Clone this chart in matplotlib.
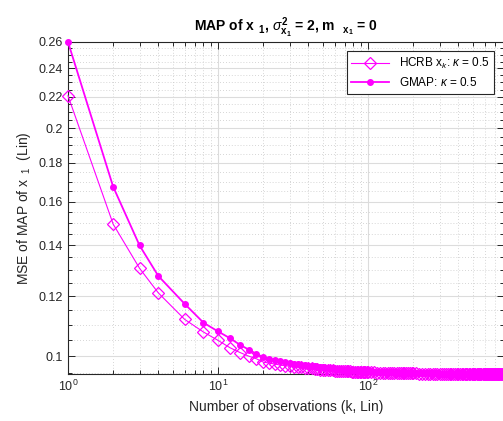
import numpy as np
import matplotlib
matplotlib.use("Agg")
import matplotlib.pyplot as plt
from matplotlib.ticker import FixedLocator, NullFormatter, LogLocator

plt.rcParams['font.family'] = ['Liberation Sans', 'DejaVu Sans']
plt.rcParams['mathtext.fontset'] = 'custom'
plt.rcParams['mathtext.rm'] = 'Liberation Sans'
plt.rcParams['mathtext.it'] = 'Liberation Sans:italic'
plt.rcParams['mathtext.bf'] = 'Liberation Sans:bold'

# number of observations k
k = [1, 2, 3, 4, 6, 8, 10, 12, 14, 16, 18, 20,
     22, 24, 26, 28, 30, 32, 34, 36, 38, 40, 42, 44, 46, 48, 50,
     52, 54, 56, 58, 60, 62, 64, 66, 68, 70, 72, 74, 76, 78, 80,
     82, 84, 86, 88, 90, 92, 94, 96, 98, 100,
     105, 110, 115, 120, 125, 130, 135, 140, 145, 150,
     155, 160, 165, 170, 175, 180, 185, 190, 195, 200,
     210, 220, 230, 240, 250, 260, 270, 280, 290, 300,
     310, 320, 330, 340, 350, 360, 370, 380, 390, 400,
     410, 420, 430, 440, 450, 460, 470, 480, 490, 500,
     510, 520, 530, 540, 550, 560, 570, 580, 590, 600,
     610, 620, 630, 640, 650, 660, 670, 680, 690, 700,
     710, 720, 730, 740, 750, 760, 770, 780, 790, 800]

# GMAP, kappa = 0.5
gmap = [0.2600, 0.1674, 0.1400, 0.1276, 0.1172, 0.1107, 0.1078, 0.1056, 0.1035, 0.1020, 0.1007, 0.0997,
        0.0992, 0.0988, 0.0985, 0.0982, 0.0980, 0.0977, 0.0976, 0.0974, 0.0972, 0.0971, 0.0970, 0.0969, 0.0968, 0.0967, 0.0966,
        0.0965, 0.0964, 0.0964, 0.0963, 0.0962, 0.0962, 0.0961, 0.0961, 0.0960, 0.0960, 0.0959, 0.0959, 0.0959, 0.0958, 0.0958,
        0.0958, 0.0957, 0.0957, 0.0957, 0.0957, 0.0956, 0.0956, 0.0956, 0.0956, 0.0955,
        0.0955, 0.0954, 0.0954, 0.0954, 0.0953, 0.0953, 0.0953, 0.0952, 0.0952, 0.0952,
        0.0952, 0.0951, 0.0951, 0.0951, 0.0951, 0.0951, 0.0951, 0.0950, 0.0950, 0.0950,
        0.0950, 0.0950, 0.0950, 0.0949, 0.0949, 0.0949, 0.0949, 0.0949, 0.0949, 0.0948,
        0.0948, 0.0948, 0.0948, 0.0948, 0.0948, 0.0948, 0.0948, 0.0948, 0.0948, 0.0948,
        0.0948, 0.0947, 0.0947, 0.0947, 0.0947, 0.0947, 0.0947, 0.0947, 0.0947, 0.0947,
        0.0947, 0.0947, 0.0947, 0.0947, 0.0947, 0.0947, 0.0947, 0.0947, 0.0947, 0.0947,
        0.0947, 0.0947, 0.0947, 0.0947, 0.0947, 0.0947, 0.0947, 0.0947, 0.0947, 0.0946,
        0.0946, 0.0946, 0.0946, 0.0946, 0.0946, 0.0946, 0.0946, 0.0946, 0.0946, 0.0946]

# HCRB x_k, kappa = 0.5
hcrb = [0.2208, 0.1494, 0.1306, 0.1212, 0.1118, 0.1076, 0.1049, 0.1026, 0.1011, 0.1000, 0.0992, 0.0982,
        0.0979, 0.0976, 0.0973, 0.0971, 0.0970, 0.0968, 0.0967, 0.0966, 0.0964, 0.0963, 0.0963, 0.0962, 0.0961, 0.0960, 0.0960,
        0.0959, 0.0959, 0.0958, 0.0958, 0.0957, 0.0957, 0.0957, 0.0956, 0.0956, 0.0956, 0.0955, 0.0955, 0.0955, 0.0954, 0.0954,
        0.0954, 0.0954, 0.0954, 0.0953, 0.0953, 0.0953, 0.0953, 0.0953, 0.0953, 0.0952,
        0.0952, 0.0952, 0.0951, 0.0951, 0.0951, 0.0951, 0.0950, 0.0950, 0.0950, 0.0950,
        0.0950, 0.0950, 0.0949, 0.0949, 0.0949, 0.0949, 0.0949, 0.0949, 0.0949, 0.0949,
        0.0949, 0.0948, 0.0948, 0.0948, 0.0948, 0.0948, 0.0948, 0.0948, 0.0948, 0.0947,
        0.0947, 0.0947, 0.0947, 0.0947, 0.0947, 0.0947, 0.0947, 0.0947, 0.0947, 0.0947,
        0.0947, 0.0947, 0.0947, 0.0947, 0.0947, 0.0947, 0.0947, 0.0947, 0.0947, 0.0946,
        0.0946, 0.0946, 0.0946, 0.0946, 0.0946, 0.0946, 0.0946, 0.0946, 0.0946, 0.0946,
        0.0946, 0.0946, 0.0946, 0.0946, 0.0946, 0.0946, 0.0946, 0.0946, 0.0946, 0.0946,
        0.0946, 0.0946, 0.0946, 0.0946, 0.0946, 0.0946, 0.0946, 0.0946, 0.0946, 0.0946]

yticks = [0.1, 0.12, 0.14, 0.16, 0.18, 0.2, 0.22, 0.24, 0.26]
ytick_labels = ['0.1', '0.12', '0.14', '0.16', '0.18', '0.2', '0.22', '0.24', '0.26']

mag = '#FF00FF'
dark = '#262626'

fig = plt.figure(figsize=(5.03, 4.21), dpi=100)
ax = fig.add_axes([68/503, 1 - 374/421, 435.5/503, 332/421])

ax.plot(k, hcrb, color=mag, lw=0.8, marker='D', ms=6.5, mfc='none', mew=0.9,
        label=r'HCRB x$_k$: $\kappa$ = 0.5', clip_on=False, zorder=3)
ax.plot(k, gmap, color=mag, lw=1.3, marker='o', ms=4, mfc=mag, mec=mag,
        label=r'GMAP: $\kappa$ = 0.5', clip_on=False, zorder=4)

ax.set_xscale('log')
ax.set_yscale('log')
ax.set_xlim(1, 800)
ax.set_ylim(0.0947, 0.26)

ax.yaxis.set_major_locator(FixedLocator(yticks))
ax.set_yticklabels(ytick_labels)
minor_y = [v / 1000 for v in range(95, 260, 5) if v % 20 != 0]
ax.yaxis.set_minor_locator(FixedLocator(minor_y))
ax.yaxis.set_minor_formatter(NullFormatter())
ax.xaxis.set_minor_locator(LogLocator(base=10, subs=np.arange(2, 10)))
ax.xaxis.set_minor_formatter(NullFormatter())

ax.grid(True, which='major', color='#dcdcdc', lw=0.8, ls='-')
ax.grid(True, which='minor', color='#c8c8c8', lw=0.6, ls=(0, (1, 2.5)))
ax.set_axisbelow(True)

ax.tick_params(which='both', direction='in', top=True, right=True, colors=dark,
               labelsize=9, width=0.7)
ax.tick_params(which='major', length=5)
ax.tick_params(which='minor', length=3)
for s in ax.spines.values():
    s.set_color(dark)
    s.set_linewidth(0.8)

ax.set_xlabel('Number of observations (k, Lin)', fontsize=10, color=dark)
ax.set_ylabel(r'MSE of MAP of x$_{\ \ 1}$  (Lin)', fontsize=10, color=dark, labelpad=4)
ax.set_title(r'MAP of x$_{\ \ \mathbf{1}}$, $\sigma^{\mathbf{2}}_{\mathbf{x}_\mathbf{1}}$ = 2, m$_{\ \ \ \mathbf{x}_\mathbf{1}}$ = 0',
             fontsize=10, fontweight='bold', color='black', pad=8)

leg = ax.legend(loc='upper right', fontsize=8.5, fancybox=False, edgecolor=dark,
                framealpha=1, handlelength=3.2, borderaxespad=0.8, labelspacing=0.4)
leg.get_frame().set_linewidth(0.8)

fig.savefig('out.png', dpi=100)
